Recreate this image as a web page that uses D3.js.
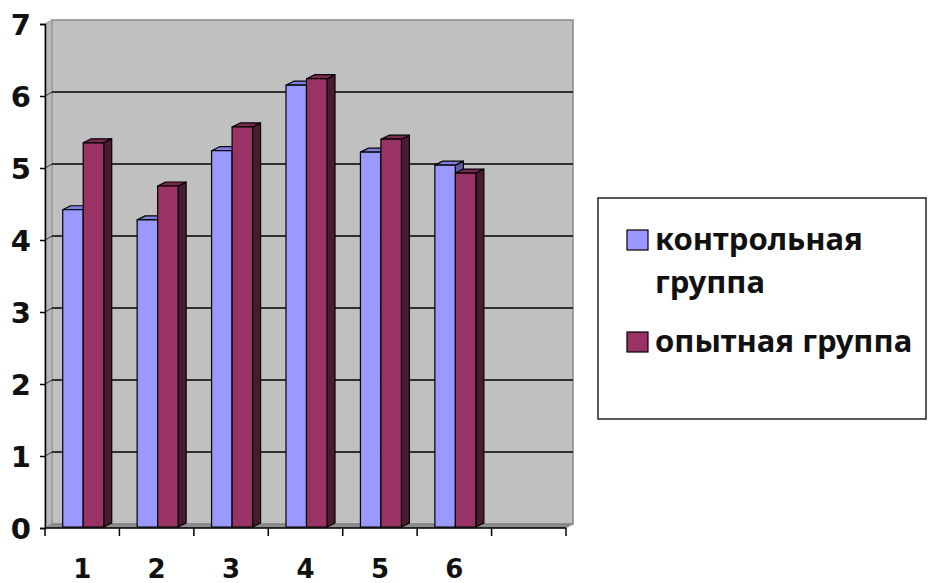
<!DOCTYPE html>
<html>
<head>
<meta charset="utf-8">
<script src="https://cdn.jsdelivr.net/npm/d3@7/dist/d3.min.js"></script>
<style>
  html, body { margin: 0; padding: 0; background: #fff; }
  svg { display: block; }
  text { font-family: "DejaVu Sans", Verdana, sans-serif; font-weight: bold; fill: #111; }
  .legend-label { font-family: "Noto Sans", "Open Sans", sans-serif; font-weight: 700; }
</style>
</head>
<body>
<svg id="chart" width="929" height="583"></svg>
<script>
// Categories (the 7th slot is an empty category on the axis)
const categories = ["1", "2", "3", "4", "5", "6", ""];
const seriesNames = ["контрольная группа", "опытная группа"];
const controlValues = [4.42, 4.28, 5.24, 6.15, 5.22, 5.04];
const experimentValues = [5.35, 4.75, 5.57, 6.24, 5.40, 4.93];
const yTicks = [0, 1, 2, 3, 4, 5, 6, 7];

const svg = d3.select("#chart");

// Plot geometry
const plotLeft = 45, plotRight = 566, plotTop = 24, plotBottom = 528;
const wallDx = 7, wallDy = -4;      // depth of the back wall
const barDx = 8, barDy = -4;        // depth of each bar
const barW = 20.5;

const y = d3.scaleLinear().domain([0, 7]).range([plotBottom, plotTop]);
const x = d3.scaleBand().domain(categories.map((c, i) => i)).range([plotLeft, plotRight]);
const xs = d3.scaleBand().domain([0, 1]).range([0, barW * 2]);

const wallFill = "#c0c0c0";

// Back wall
svg.append("rect")
  .attr("x", plotLeft + wallDx).attr("y", plotTop + wallDy)
  .attr("width", plotRight - plotLeft).attr("height", plotBottom - plotTop)
  .attr("fill", wallFill).attr("stroke", "#888").attr("stroke-width", 1.5);

// Left side wall
svg.append("polygon")
  .attr("points", [[plotLeft, plotTop], [plotLeft + wallDx, plotTop + wallDy], [plotLeft + wallDx, plotBottom + wallDy], [plotLeft, plotBottom]].join(" "))
  .attr("fill", "#b8b8b8").attr("stroke", "#999").attr("stroke-width", 1);

// Floor
svg.append("polygon")
  .attr("points", [[plotLeft, plotBottom], [plotLeft + wallDx, plotBottom + wallDy], [plotRight + wallDx, plotBottom + wallDy], [plotRight, plotBottom]].join(" "))
  .attr("fill", "#8c8c8c").attr("stroke", "#777").attr("stroke-width", 0.5);

// Gridlines on back wall and side wall
const grid = svg.append("g");
yTicks.filter(v => v > 0 && v < 7).forEach(v => {
  grid.append("line")
    .attr("x1", plotLeft + wallDx).attr("x2", plotRight + wallDx)
    .attr("y1", y(v) + wallDy).attr("y2", y(v) + wallDy)
    .attr("stroke", "#000").attr("stroke-width", 1.5);
  grid.append("line")
    .attr("x1", plotLeft).attr("x2", plotLeft + wallDx)
    .attr("y1", y(v)).attr("y2", y(v) + wallDy)
    .attr("stroke", "#333").attr("stroke-width", 1);
});

// 3D bars
const palette = [
  { front: "#9999ff", top: "#8080dd", side: "#5c5ca6" },
  { front: "#993366", top: "#7a2952", side: "#4a1a33" }
];
const seriesData = [controlValues, experimentValues];
const bars = svg.append("g");
controlValues.forEach((_, i) => {
  const groupStart = x(i) + (x.bandwidth() - barW * 2) / 2 + 1;
  seriesData.forEach((vals, s) => {
    const v = vals[i];
    const x0 = groupStart + xs(s), x1 = x0 + barW;
    const y0 = y(v), yb = y(0) - 1;
    const c = palette[s];
    const g = bars.append("g").attr("stroke", "#000").attr("stroke-width", 1.2).attr("stroke-linejoin", "round");
    // side face
    g.append("polygon")
      .attr("points", [[x1, y0], [x1 + barDx, y0 + barDy], [x1 + barDx, yb + barDy], [x1, yb]].join(" "))
      .attr("fill", c.side);
    // top face
    g.append("polygon")
      .attr("points", [[x0, y0], [x0 + barDx, y0 + barDy], [x1 + barDx, y0 + barDy], [x1, y0]].join(" "))
      .attr("fill", c.top);
    // front face
    g.append("rect")
      .attr("x", x0).attr("y", y0).attr("width", barW).attr("height", yb - y0)
      .attr("fill", c.front);
  });
});

// Y axis
const yAxis = svg.append("g").attr("transform", `translate(${plotLeft},0)`)
  .call(d3.axisLeft(y).tickValues(yTicks).tickSize(5).tickFormat(d3.format("d")));
yAxis.select(".domain").attr("stroke", "#000").attr("stroke-width", 1.5);
yAxis.selectAll(".tick line").attr("stroke", "#000").attr("stroke-width", 1.5);
yAxis.selectAll(".tick text")
  .attr("x", -14).attr("dy", "0.36em")
  .style("font-size", "29px").style("font-family", "'DejaVu Sans', sans-serif").style("font-weight", "bold").attr("fill", "#111");

// X axis (ticks between categories)
const xAxisG = svg.append("g");
xAxisG.append("line")
  .attr("x1", plotLeft).attr("x2", plotRight).attr("y1", plotBottom).attr("y2", plotBottom)
  .attr("stroke", "#000").attr("stroke-width", 1.5);
categories.forEach((c, i) => {
  xAxisG.append("line")
    .attr("x1", x(i)).attr("x2", x(i)).attr("y1", plotBottom).attr("y2", plotBottom + 8)
    .attr("stroke", "#000").attr("stroke-width", 1.5);
});
xAxisG.append("line")
  .attr("x1", plotRight).attr("x2", plotRight).attr("y1", plotBottom).attr("y2", plotBottom + 8)
  .attr("stroke", "#000").attr("stroke-width", 1.5);
xAxisG.selectAll("text.cat").data(categories).join("text")
  .attr("class", "cat")
  .attr("x", (d, i) => x(i) + x.bandwidth() / 2)
  .attr("y", 578)
  .attr("text-anchor", "middle")
  .style("font-size", "26px")
  .text(d => d);

// Legend
const legend = svg.append("g");
legend.append("rect")
  .attr("x", 598).attr("y", 198).attr("width", 328).attr("height", 221)
  .attr("fill", "#fff").attr("stroke", "#222").attr("stroke-width", 1.5);
const legendRows = [
  { lines: ["контрольная", "группа"], y: 250, color: palette[0].front },
  { lines: ["опытная группа"], y: 352, color: palette[1].front }
];
legendRows.forEach(r => {
  legend.append("rect")
    .attr("x", 627).attr("y", r.y - 20).attr("width", 21).attr("height", 20)
    .attr("fill", r.color).attr("stroke", "#000").attr("stroke-width", 1.2);
  r.lines.forEach((t, k) => {
    legend.append("text")
      .attr("class", "legend-label")
      .attr("x", 655).attr("y", r.y + k * 43)
      .style("font-size", "31px")
      .text(t);
  });
});
</script>
</body>
</html>
